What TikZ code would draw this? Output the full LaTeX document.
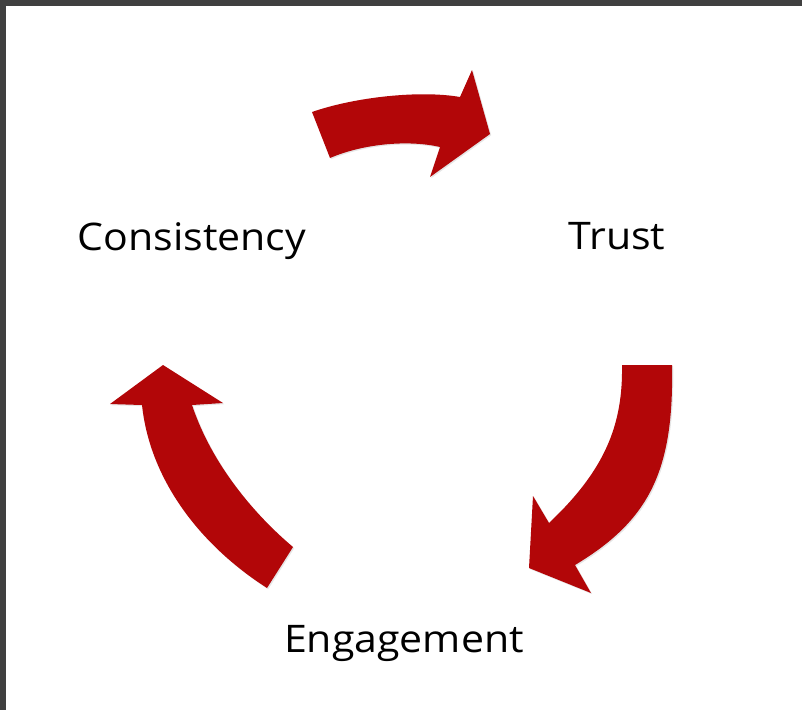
\documentclass[tikz,border=0pt]{standalone}
\usepackage{fontspec}
\setmainfont{Open Sans}[FakeStretch=1.08]
\usetikzlibrary{shadows}

\definecolor{cyclered}{RGB}{178,6,8}
\definecolor{framegrey}{RGB}{64,64,64}

\begin{document}
\begin{tikzpicture}[x=1pt,y=-1pt]
        \tikzstyle{every node}=[font=\fontsize{38}{44}\selectfont,anchor=base]
        \tikzstyle{cyclearrow}=[fill=cyclered,draw=none,drop shadow={opacity=0.2,shadow xshift=1.2pt,shadow yshift=-1.2pt}]
        % page frame
        \useasboundingbox (0,0) rectangle (802,710);
        \fill[framegrey] (0,0) rectangle (802,710);
        \fill[white] (6,6) rectangle (802,710);

        % labels
        \node (consistency) at (192,250) {Consistency};
        \node (trust) at (617,249) {Trust};
        \node (engagement) at (404,652) {Engagement};

        % consistency to trust
        \path[cyclearrow] (312,112) .. controls (355,97) and (420,90) .. (460,97)
            -- (472,70) -- (490,134) -- (430,177) -- (440,147)
            .. controls (410,140) and (365,143) .. (330,158) -- cycle;

        % trust to engagement
        \path[cyclearrow] (672,365) .. controls (674,470) and (650,520) .. (575,565)
            -- (591,593) -- (529,568) -- (533,496) -- (549,523)
            .. controls (605,470) and (623,425) .. (622,365) -- cycle;

        % engagement to consistency
        \path[cyclearrow] (293,547) .. controls (255,515) and (212,465) .. (192,405)
            -- (223,403) -- (163,365) -- (110,404) -- (142,405)
            .. controls (150,480) and (200,545) .. (267,588) -- cycle;
    \end{tikzpicture}
\end{document}
